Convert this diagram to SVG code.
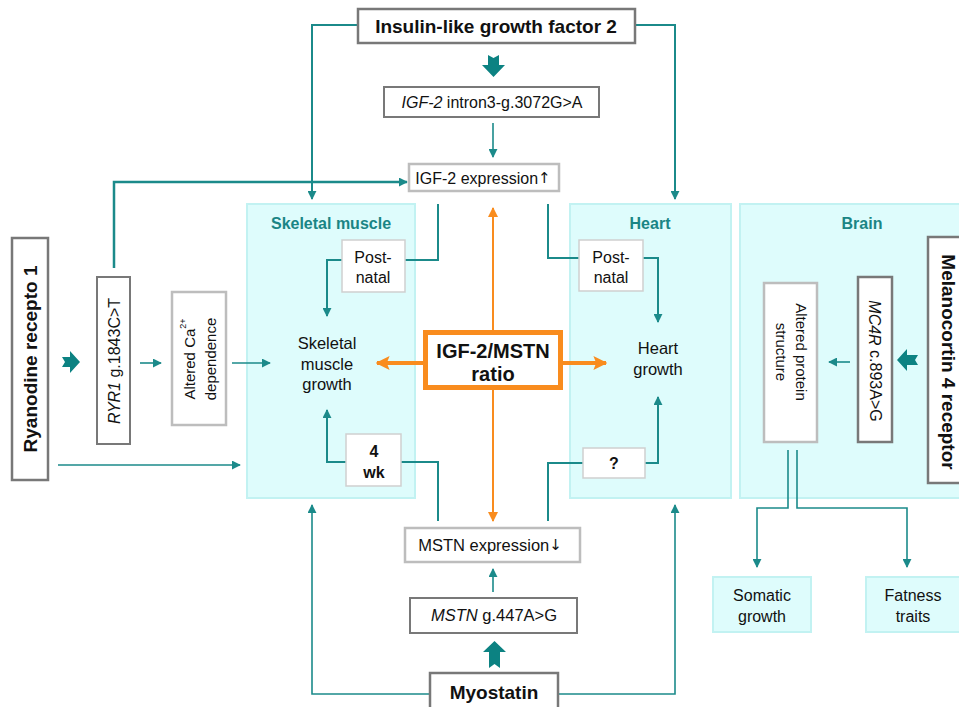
<svg xmlns="http://www.w3.org/2000/svg" width="959" height="707" viewBox="0 0 959 707">
<style>
text{font-family:"Liberation Sans",Arial,sans-serif;fill:#111;dominant-baseline:central;text-anchor:middle}
.b{font-weight:bold}
.t{fill:#1a8585;font-weight:bold;font-size:16px}
.ar{font-family:"DejaVu Sans",sans-serif}
.dk{fill:#fff;stroke:#787878;stroke-width:2.5}
.lt{fill:#fff;stroke:#bdbdbd;stroke-width:2.5}
.sm{fill:#fff;stroke:#cfcfcf;stroke-width:1.5}
.pn{fill:#defcfc;stroke:#c2f2f2;stroke-width:2}
.c{fill:none;stroke:#1b8a8a;stroke-width:2}
.th{stroke-width:1.6}
.o{fill:none;stroke:#f98c1e}
.ta{fill:#0c8282}
</style>
<defs>
<marker id="ah" markerUnits="userSpaceOnUse" viewBox="0 0 10 10" refX="9" refY="5" markerWidth="9" markerHeight="9" orient="auto"><path d="M0,0 L10,5 L0,10 z" fill="#1b8a8a"/></marker>
<marker id="ao" markerUnits="userSpaceOnUse" viewBox="0 0 10 10" refX="9" refY="5" markerWidth="10" markerHeight="10" orient="auto"><path d="M0,0 L10,5 L0,10 z" fill="#f98c1e"/></marker>
<marker id="aoL" markerUnits="userSpaceOnUse" viewBox="0 0 10 10" refX="9" refY="5" markerWidth="14" markerHeight="14" orient="auto"><path d="M0,0 L10,5 L0,10 L2,5 z" fill="#f98c1e"/></marker>
</defs>

<g id="panel-skeletal"><rect class="pn" x="247" y="204" width="168" height="294"/><text class="t" x="331" y="223">Skeletal muscle</text></g>
<g id="panel-heart"><rect class="pn" x="570" y="204" width="161" height="294"/><text class="t" x="650" y="223">Heart</text></g>
<g id="panel-brain"><rect class="pn" x="740" y="204" width="230" height="294"/><text class="t" x="862" y="223">Brain</text></g>

<g id="connectors">
<polyline class="c" points="357,25 312,25 312,199" marker-end="url(#ah)"/>
<polyline class="c" points="636,25 675,25 675,199" marker-end="url(#ah)"/>
<polyline class="c th" points="493,123 493,157" marker-end="url(#ah)"/>
<polyline class="c" style="stroke-width:2.5" points="114,268 114,182 407,182" marker-end="url(#ah)"/>
<polyline class="c" points="438,204 438,260 405,260"/>
<polyline class="c" points="342,260 327,260 327,316" marker-end="url(#ah)"/>
<polyline class="c" points="548,204 548,258 579,258"/>
<polyline class="c" points="643,258 658,258 658,322" marker-end="url(#ah)"/>
<polyline class="c" points="346,462 327,462 327,410" marker-end="url(#ah)"/>
<polyline class="c" points="401,462 438,462 438,521"/>
<polyline class="c" points="583,463 548,463 548,521"/>
<polyline class="c" points="645,463 658,463 658,397" marker-end="url(#ah)"/>
<polyline class="c th" points="232,363 270,363" marker-end="url(#ah)"/>
<polyline class="c th" points="140,363 161,363" marker-end="url(#ah)"/>
<polyline class="c th" points="58,465 240,465" marker-end="url(#ah)"/>
<polyline class="c th" points="850,362 829,362" marker-end="url(#ah)"/>
<polyline class="c th" points="788,450 788,508 757,508 757,567" marker-end="url(#ah)"/>
<polyline class="c th" points="797,450 797,508 907,508 907,567" marker-end="url(#ah)"/>
<polyline class="c th" points="493,592 493,569" marker-end="url(#ah)"/>
<polyline class="c th" points="430,694 312,694 312,505" marker-end="url(#ah)"/>
<polyline class="c th" points="558,694 675,694 675,505" marker-end="url(#ah)"/>
<line class="o" style="stroke-width:2" x1="493" y1="330" x2="493" y2="208" marker-end="url(#ao)"/>
<line class="o" style="stroke-width:2" x1="493" y1="390" x2="493" y2="521" marker-end="url(#ao)"/>
<line class="o" style="stroke-width:4" x1="423" y1="363" x2="377" y2="363" marker-end="url(#aoL)"/>
<line class="o" style="stroke-width:4" x1="562" y1="363" x2="606" y2="363" marker-end="url(#aoL)"/>
<polygon class="ta" points="488,55 493.5,58 499,55 499,65 505,65 493.5,77 482,65 488,65"/>
<polygon class="ta" points="494.5,641 506,652 500,652 500,668 494.5,664 489,668 489,652 483,652"/>
<polygon class="ta" points="62,357 70,357 70,351 80,362 70,373 70,367 62,367 65,362"/>
<polygon class="ta" points="897,360 907,349 907,355 918,355 915,360 918,365 907,365 907,371"/>
</g>

<g id="igf2"><rect class="dk" x="358" y="9" width="277" height="34"/><text class="b" x="496" y="26" font-size="19">Insulin-like growth factor 2</text></g>
<g id="igf2-snp"><rect class="dk" x="384" y="87" width="215" height="30" style="stroke-width:2"/><text x="492" y="102" font-size="16"><tspan font-style="italic">IGF-2</tspan> intron3-g.3072G&gt;A</text></g>
<g id="igf2-expr"><rect class="lt" x="409" y="164" width="150" height="27"/><text x="483" y="178" font-size="16">IGF-2 expression<tspan class="ar" font-size="15">↑</tspan></text></g>

<g id="sk-postnatal"><rect class="sm" x="342" y="240" width="63" height="52"/><text x="373" y="257" font-size="16">Post-</text><text x="373" y="277" font-size="16">natal</text></g>
<g id="sk-growth"><text x="327" y="343" font-size="16.5">Skeletal</text><text x="327" y="364" font-size="16.5">muscle</text><text x="327" y="384" font-size="16.5">growth</text></g>
<g id="sk-4wk"><rect class="sm" x="346" y="434" width="55" height="52"/><text class="b" x="374" y="451" font-size="16">4</text><text class="b" x="374" y="472" font-size="16">wk</text></g>

<g id="ratio"><rect x="425.5" y="332.5" width="135" height="55" fill="#fff" stroke="#f98c1e" stroke-width="5"/><text class="b" x="493" y="351" font-size="20">IGF-2/MSTN</text><text class="b" x="493" y="374" font-size="20">ratio</text></g>

<g id="ht-postnatal"><rect class="sm" x="579" y="240" width="64" height="51"/><text x="611" y="257" font-size="16">Post-</text><text x="611" y="277" font-size="16">natal</text></g>
<g id="ht-growth"><text x="658" y="348" font-size="16.5">Heart</text><text x="658" y="369" font-size="16.5">growth</text></g>
<g id="ht-q"><rect class="sm" x="583" y="448" width="62" height="30"/><text class="b" x="614" y="463" font-size="16">?</text></g>

<g id="ryr1"><rect class="dk" x="12" y="238" width="36" height="242"/><text class="b" font-size="19" transform="translate(30,359) rotate(-90)">Ryanodine recepto 1</text></g>
<g id="ryr1-snp"><rect class="dk" x="97" y="277" width="33" height="167" style="stroke-width:2"/><text font-size="16" transform="translate(114,361) rotate(-90)"><tspan font-style="italic">RYR1</tspan> g.1843C&gt;T</text></g>
<g id="ca"><rect class="lt" x="172" y="292" width="54" height="133"/><text font-size="15" transform="translate(189,359) rotate(-90)">Altered Ca<tspan font-size="9" dy="-6">2+</tspan></text><text font-size="15" transform="translate(210,359) rotate(-90)">dependence</text></g>

<g id="mc4r"><rect class="dk" x="928" y="237" width="40" height="246"/><text class="b" font-size="19" transform="translate(948,362) rotate(90)">Melanocortin 4 receptor</text></g>
<g id="mc4r-snp"><rect class="dk" x="858" y="277" width="34" height="165"/><text font-size="16" transform="translate(875,361) rotate(90)"><tspan font-style="italic">MC4R</tspan> c.893A&gt;G</text></g>
<g id="protein"><rect class="lt" x="764" y="283" width="53" height="159"/><text font-size="15" transform="translate(801,352) rotate(90)">Altered protein</text><text font-size="15" transform="translate(781,352) rotate(90)">structure</text></g>
<g id="somatic"><rect class="pn" x="713" y="577" width="98" height="55"/><text x="762" y="595" font-size="16">Somatic</text><text x="762" y="616" font-size="16">growth</text></g>
<g id="fatness"><rect class="pn" x="866" y="577" width="100" height="55"/><text x="913" y="595" font-size="16">Fatness</text><text x="913" y="616" font-size="16">traits</text></g>

<g id="mstn-expr"><rect class="lt" x="405" y="528" width="175" height="34"/><text x="490" y="545" font-size="16.5">MSTN expression<tspan class="ar" font-size="15">↓</tspan></text></g>
<g id="mstn-snp"><rect class="dk" x="410" y="598" width="167" height="35" style="stroke-width:2"/><text x="494" y="615" font-size="16.5"><tspan font-style="italic">MSTN</tspan> g.447A&gt;G</text></g>
<g id="myostatin"><rect class="dk" x="430" y="673" width="128" height="45"/><text class="b" x="494" y="692" font-size="19">Myostatin</text></g>
</svg>
